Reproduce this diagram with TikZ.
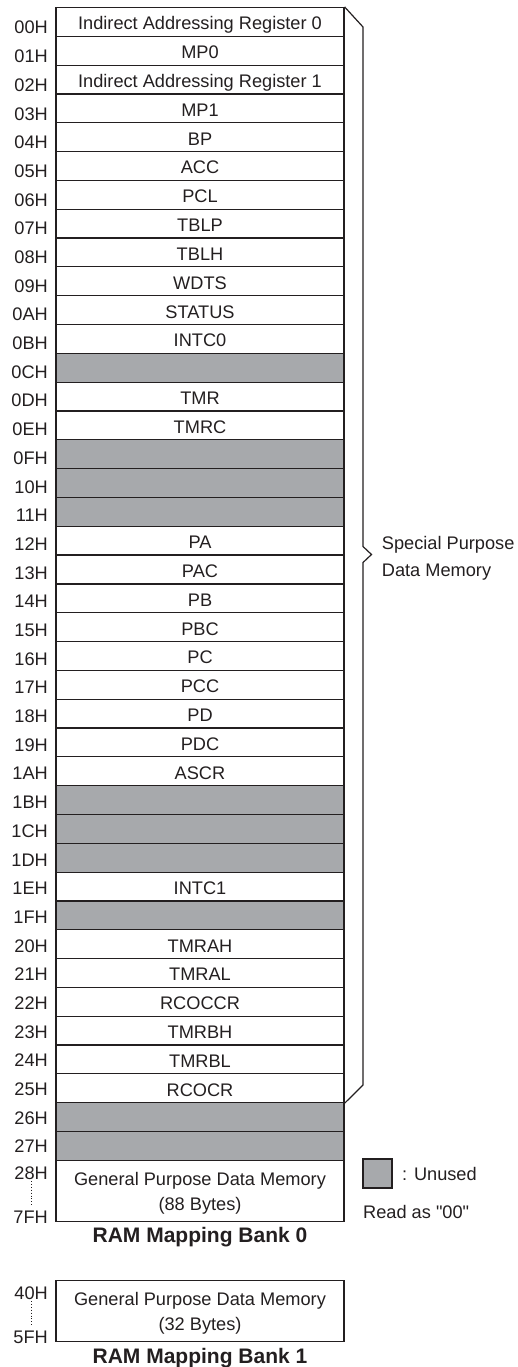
\documentclass[tikz,border=0pt]{standalone}
\usepackage{fontspec}
\setmainfont{Liberation Sans}[Ligatures=TeXOff]
\definecolor{linec}{HTML}{231F20}
\definecolor{unusedc}{HTML}{A7A9AC}
\newcommand\memrow[3]{%
  \pgfmathsetmacro\yc{7.5+28.82*#1+14.41}%
  \node[cell] (r#1) at (200,\yc) {#3};%
  \pgfmathsetmacro\yl{27.5+28.69*#1+6.5}%
  \node[addr] (a#1) at (48,\yl) {#2};%
}
\newcommand\memunused[2]{%
  \pgfmathsetmacro\yc{7.5+28.82*#1+14.41}%
  \node[cell,fill=unusedc] (r#1) at (200,\yc) {};%
  \pgfmathsetmacro\yl{27.5+28.69*#1+6.5}%
  \node[addr] (a#1) at (48,\yl) {#2};%
}
\begin{document}
\begin{tikzpicture}[x=1pt,y=-1pt,
  txt/.style={font=\fontsize{18.2}{22}\selectfont, text=linec, inner sep=0pt},
  cell/.style={txt, draw=linec, line width=1.2pt, minimum width=288pt, minimum height=28.82pt, text height=15.8pt, text depth=0pt},
  addr/.style={txt, anchor=base east},
  plain/.style={txt, anchor=base},
  plainw/.style={txt, anchor=base west},
  title/.style={font=\fontsize{21}{24}\selectfont\bfseries, text=linec, inner sep=0pt, anchor=base},
  bigbox/.style={draw=linec, line width=1.2pt, minimum width=288pt, minimum height=61pt, inner sep=0pt},
  bline/.style={draw=linec, line width=1.2pt},
  dots/.style={draw=linec, line width=0.9pt, dotted}
]
\useasboundingbox (0,0) rectangle (518,1367);
\memrow{0}{00H}{Indirect Addressing Register 0}
\memrow{1}{01H}{MP0}
\memrow{2}{02H}{Indirect Addressing Register 1}
\memrow{3}{03H}{MP1}
\memrow{4}{04H}{BP}
\memrow{5}{05H}{ACC}
\memrow{6}{06H}{PCL}
\memrow{7}{07H}{TBLP}
\memrow{8}{08H}{TBLH}
\memrow{9}{09H}{WDTS}
\memrow{10}{0AH}{STATUS}
\memrow{11}{0BH}{INTC0}
\memunused{12}{0CH}
\memrow{13}{0DH}{TMR}
\memrow{14}{0EH}{TMRC}
\memunused{15}{0FH}
\memunused{16}{10H}
\memunused{17}{11H}
\memrow{18}{12H}{PA}
\memrow{19}{13H}{PAC}
\memrow{20}{14H}{PB}
\memrow{21}{15H}{PBC}
\memrow{22}{16H}{PC}
\memrow{23}{17H}{PCC}
\memrow{24}{18H}{PD}
\memrow{25}{19H}{PDC}
\memrow{26}{1AH}{ASCR}
\memunused{27}{1BH}
\memunused{28}{1CH}
\memunused{29}{1DH}
\memrow{30}{1EH}{INTC1}
\memunused{31}{1FH}
\memrow{32}{20H}{TMRAH}
\memrow{33}{21H}{TMRAL}
\memrow{34}{22H}{RCOCCR}
\memrow{35}{23H}{TMRBH}
\memrow{36}{24H}{TMRBL}
\memrow{37}{25H}{RCOCR}
\memunused{38}{26H}
\memunused{39}{27H}

% brace for special purpose data memory
\coordinate (b1) at (363,27);
\coordinate (b2) at (363,546.5);
\coordinate (tip) at (371.5,554.5);
\coordinate (b3) at (363,562.5);
\coordinate (b4) at (363,1085);
\draw[bline] (r0.north east) -- (b1) -- (b2) -- (tip) -- (b3) -- (b4) -- (r37.south east);
\node[plainw] (sp1) at (381.7,549.3) {Special Purpose};
\node[plainw] (sp2) at (381.7,576) {Data Memory};

% bank 0 general purpose
\node[bigbox] (gp0) at (200,1191.1) {};
\node[plain] (gp0a) at (200,1185) {General Purpose Data Memory};
\node[plain] (gp0b) at (200,1210.7) {(88 Bytes)};
\node[addr] (a28) at (48,1179.5) {28H};
\node[addr] (a7F) at (48,1223) {7FH};
\draw[dots] (31.7,1181) -- (31.7,1206);
\node[title] (t0) at (200,1242.7) {RAM Mapping Bank 0};

% legend
\node[draw=linec, line width=1.2pt, fill=unusedc, minimum width=29pt, minimum height=29pt, inner sep=0pt] (leg) at (377.5,1173.5) {};
\node[plainw] (legt) at (402,1180) {: Unused};
\node[plainw] (legr) at (363,1218.3) {Read as "00"};

% bank 1
\node[bigbox] (gp1) at (200,1311.2) {};
\node[plain] (gp1a) at (200,1305) {General Purpose Data Memory};
\node[plain] (gp1b) at (200,1330.7) {(32 Bytes)};
\node[addr] (a40) at (48,1299.5) {40H};
\node[addr] (a5F) at (48,1343.5) {5FH};
\draw[dots] (31.7,1301) -- (31.7,1326);
\node[title] (t1) at (200,1363.5) {RAM Mapping Bank 1};
\end{tikzpicture}
\end{document}
